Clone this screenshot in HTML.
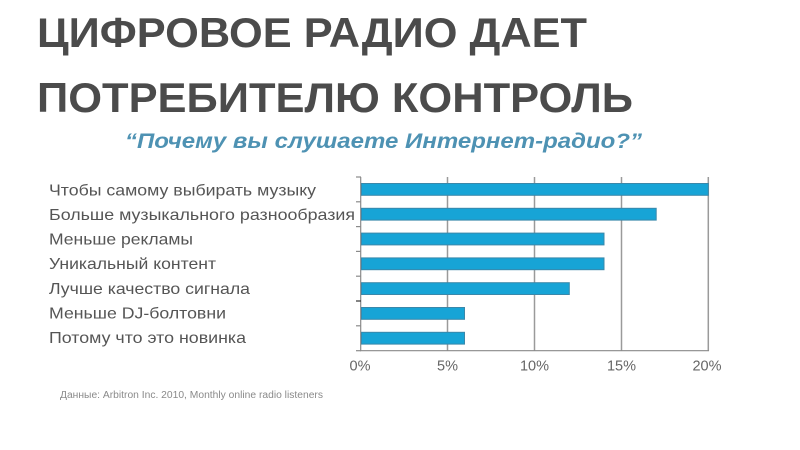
<!DOCTYPE html>
<html><head><meta charset="utf-8"><style>
html,body{margin:0;padding:0;background:#fff;}
svg{display:block;}
</style></head><body>
<svg width="800" height="450" viewBox="0 0 800 450" xmlns="http://www.w3.org/2000/svg">
<rect width="800" height="450" fill="#fff"/>
<g font-family="Liberation Sans, Arial, sans-serif">
<text x="37" y="47" font-size="42" font-weight="bold" fill="#4b4b4b" textLength="550" lengthAdjust="spacingAndGlyphs">ЦИФРОВОЕ РАДИО ДАЕТ</text>
<text x="37" y="112" font-size="42" font-weight="bold" fill="#4b4b4b" textLength="596" lengthAdjust="spacingAndGlyphs">ПОТРЕБИТЕЛЮ КОНТРОЛЬ</text>
<text x="125" y="148" font-size="21" font-weight="bold" font-style="italic" fill="#4e92b3" textLength="517" lengthAdjust="spacingAndGlyphs">“Почему вы слушаете Интернет-радио?”</text>

<g font-size="16" fill="#555">
<text x="49" y="195.5" textLength="267" lengthAdjust="spacingAndGlyphs">Чтобы самому выбирать музыку</text>
<text x="49" y="220" textLength="306" lengthAdjust="spacingAndGlyphs">Больше музыкального разнообразия</text>
<text x="49" y="244.5" textLength="144" lengthAdjust="spacingAndGlyphs">Меньше рекламы</text>
<text x="49" y="269" textLength="167" lengthAdjust="spacingAndGlyphs">Уникальный контент</text>
<text x="49" y="294" textLength="201" lengthAdjust="spacingAndGlyphs">Лучше качество сигнала</text>
<text x="49" y="318.5" textLength="177" lengthAdjust="spacingAndGlyphs">Меньше DJ-болтовни</text>
<text x="49" y="343" textLength="197" lengthAdjust="spacingAndGlyphs">Потому что это новинка</text>
</g>

<!-- gridlines -->
<g stroke="#9a9a9a" stroke-width="1.5">
<line x1="447.5" y1="177" x2="447.5" y2="351"/>
<line x1="534.5" y1="177" x2="534.5" y2="351"/>
<line x1="621.5" y1="177" x2="621.5" y2="351"/>
<line x1="708.3" y1="177" x2="708.3" y2="351"/>
</g>
<!-- axes -->
<g stroke="#8a8a8a" stroke-width="1.2">
<line x1="360.7" y1="177" x2="360.7" y2="351"/>
<line x1="360" y1="350.7" x2="709" y2="350.7"/>
<line x1="356" y1="177" x2="361" y2="177"/>
<line x1="356" y1="201.8" x2="361" y2="201.8"/>
<line x1="356" y1="226.6" x2="361" y2="226.6"/>
<line x1="356" y1="251.4" x2="361" y2="251.4"/>
<line x1="356" y1="276.2" x2="361" y2="276.2"/>
<line x1="356" y1="301" x2="361" y2="301" stroke="#333"/>
<line x1="356" y1="325.8" x2="361" y2="325.8"/>
<line x1="356" y1="350.7" x2="361" y2="350.7"/>
</g>
<!-- bars -->
<g fill="#17a4d6" stroke="#3a88aa" stroke-width="1">
<rect x="361.5" y="183.5" width="346.8" height="11.8"/>
<rect x="361.5" y="208.3" width="294.7" height="11.8"/>
<rect x="361.5" y="233.1" width="242.5" height="11.8"/>
<rect x="361.5" y="257.9" width="242.5" height="11.8"/>
<rect x="361.5" y="282.7" width="207.8" height="11.8"/>
<rect x="361.5" y="307.5" width="103" height="11.8"/>
<rect x="361.5" y="332.3" width="103" height="11.8"/>
</g>
<!-- tick labels -->
<g font-size="14.5" fill="#666" text-anchor="middle">
<text x="360" y="370.5">0%</text>
<text x="447.5" y="370.5">5%</text>
<text x="534.5" y="370.5">10%</text>
<text x="621.5" y="370.5">15%</text>
<text x="707" y="370.5">20%</text>
</g>
<text x="60" y="398" font-size="10" fill="#8a8a8a" textLength="263" lengthAdjust="spacingAndGlyphs">Данные: Arbitron Inc. 2010, Monthly online radio listeners</text>
</g>
</svg>
</body></html>
